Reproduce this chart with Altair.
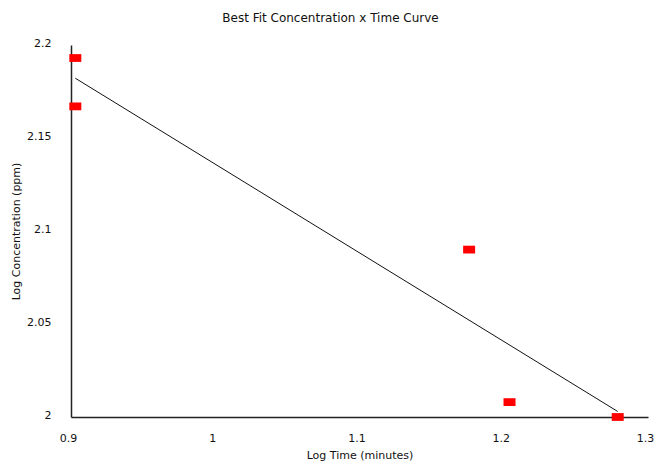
import altair as alt
import pandas as pd

# Data
log_time = [0.903, 0.903, 1.176, 1.204, 1.279]
log_conc = [2.193, 2.167, 2.090, 2.008, 2.000]

df = pd.DataFrame({"log_time": log_time, "log_conc": log_conc})

FONT = "DejaVu Sans"

x_enc = alt.X(
    "log_time:Q",
    scale=alt.Scale(domain=[0.9, 1.3], nice=False, zero=False),
    axis=alt.Axis(
        title="Log Time (minutes)",
        values=[0.9, 1.0, 1.1, 1.2, 1.3],
        format="~g",
        grid=False,
        ticks=False,
        domainColor="#222222",
        domainWidth=1.5,
        labelPadding=15,
        labelOffset=-3,
        labelFont=FONT,
        labelFontSize=11,
        labelColor="#111111",
        titleFont=FONT,
        titleFontSize=11,
        titleFontWeight="normal",
        titleColor="#111111",
        titlePadding=6,
        labelFlush=False,
    ),
)
y_enc = alt.Y(
    "log_conc:Q",
    scale=alt.Scale(domain=[2.0, 2.2], nice=False, zero=False),
    axis=alt.Axis(
        title="Log Concentration (ppm)",
        values=[2.0, 2.05, 2.1, 2.15, 2.2],
        format="~g",
        grid=False,
        ticks=False,
        domainColor="#222222",
        domainWidth=1.5,
        labelPadding=20,
        labelOffset=-2,
        labelFont=FONT,
        labelFontSize=11,
        labelColor="#111111",
        titleFont=FONT,
        titleFontSize=11,
        titleFontWeight="normal",
        titleColor="#111111",
        titlePadding=5,
        labelFlush=False,
    ),
)

points = alt.Chart(df).mark_point(
    shape="M-1,-0.65L1,-0.65L1,0.65L-1,0.65Z",
    size=144,
    filled=True,
    color="#ff0000",
    opacity=1,
).encode(x=x_enc, y=y_enc)

fit = alt.Chart(df).transform_regression(
    "log_time", "log_conc"
).mark_line(color="#111111", strokeWidth=1).encode(x=x_enc, y=y_enc)

chart = alt.layer(fit, points).properties(
    width=577,
    height=372,
    title=alt.TitleParams(
        "Best Fit Concentration x Time Curve",
        font=FONT,
        fontSize=12,
        fontWeight="normal",
        color="#111111",
        anchor="middle",
        dx=-29,
        dy=-8,
    ),
    autosize=alt.AutoSizeParams(type="none"),
    padding={"left": 71, "top": 45, "right": 9, "bottom": 46},
).configure_view(stroke=None)

chart.save("out.html", embed_options={"renderer": "svg", "actions": False})
